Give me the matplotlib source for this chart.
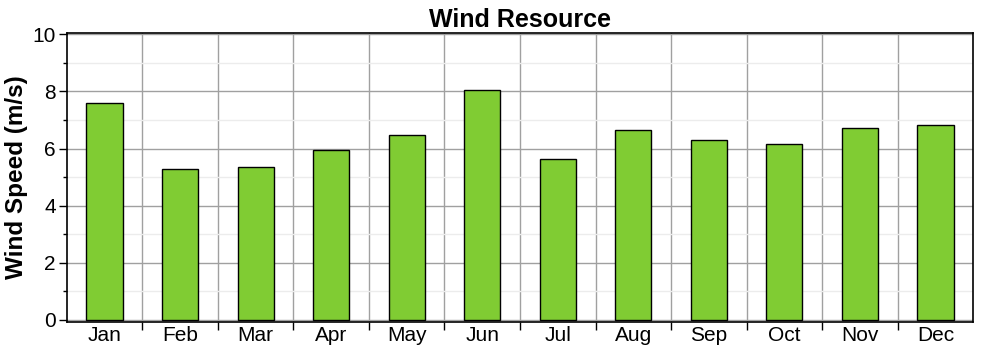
import numpy as np
import matplotlib
matplotlib.use("Agg")
import matplotlib.pyplot as plt
from matplotlib.ticker import MultipleLocator, FixedLocator

plt.rcParams['font.family'] = ['Liberation Sans', 'DejaVu Sans']

months = ["Jan", "Feb", "Mar", "Apr", "May", "Jun", "Jul", "Aug", "Sep", "Oct", "Nov", "Dec"]
speed = [7.59, 5.28, 5.35, 5.94, 6.47, 8.04, 5.63, 6.64, 6.29, 6.15, 6.71, 6.82]

fig = plt.figure(figsize=(9.83, 3.55), dpi=100)
ax = fig.add_axes([0.068, 0.093, 0.922, 0.814])

x = np.arange(len(months))
ax.bar(x, speed, width=0.48, color="#80CC33", edgecolor="black", linewidth=1, zorder=3)

ax.set_xlim(-0.5, 11.5)
ax.set_ylim(-0.08, 10.05)

ax.set_xticks(x)
ax.set_xticklabels(months, fontsize=15)
ax.xaxis.set_minor_locator(FixedLocator(x[:-1] + 0.5))
ax.tick_params(axis="x", which="major", length=0, pad=3)
ax.tick_params(axis="x", which="minor", length=6, width=1, direction="out")

ax.yaxis.set_major_locator(MultipleLocator(2))
ax.yaxis.set_minor_locator(MultipleLocator(1))
ax.tick_params(axis="y", which="major", labelsize=15, length=6, width=1, pad=2)
ax.tick_params(axis="y", which="minor", length=3, width=1)

ax.grid(axis="y", which="major", color="#a0a0a0", linewidth=1, zorder=0)
ax.grid(axis="y", which="minor", color="#ececec", linewidth=1, zorder=0)
ax.grid(axis="x", which="minor", color="#a0a0a0", linewidth=1, zorder=0)
ax.set_axisbelow(True)

for s in ax.spines.values():
    s.set_linewidth(1.2)

ax.set_title("Wind Resource", fontsize=18, fontweight="bold", pad=4)
ax.set_ylabel("Wind Speed (m/s)", fontsize=17.5, fontweight="bold", labelpad=3)

fig.savefig("out.png", dpi=100)
